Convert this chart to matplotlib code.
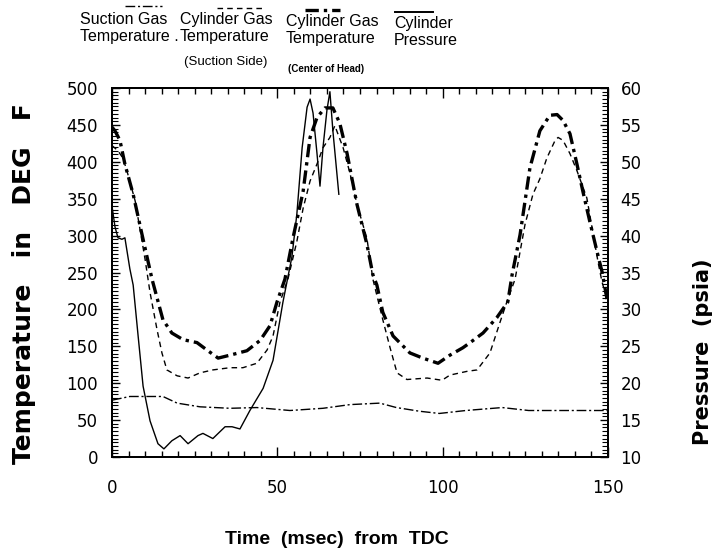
import numpy as np
import matplotlib.pyplot as plt
from matplotlib.lines import Line2D
from matplotlib.ticker import MultipleLocator

# time (msec) / value pairs
suction_t = [0, 5.4, 15.4, 19.7, 26.6, 35.7, 43.8, 53.8, 63.8, 72, 81, 86, 93, 99, 107, 118, 126, 137, 150]
suction_temp = [77, 82, 82, 73, 68, 66, 67, 63, 66, 71, 73, 67, 62, 59, 63, 67, 63, 63, 63]

side_t = [0, 1.8, 3.3, 4.5, 7.0, 10.0, 11.5, 13.6, 15.1, 16.6, 19.7, 23.0, 26.6, 30.5, 35.7, 39.6,
          43.8, 46.9, 48.7, 50.8, 53.2, 55.9, 57.8, 59.9, 62.0, 63.8, 65.9, 67.4, 68.3, 69.9, 72.0,
          74.1, 77.1, 78.9, 80.1, 81.9, 84.1, 86.2, 89.2, 95.3, 99.8, 102.2, 107.3, 110.4, 114.3,
          117.3, 119.4, 121.9, 124.9, 127.3, 129.4, 131.5, 134.0, 134.9, 136.4, 138.5, 140.6,
          143.6, 145.4, 147.0, 148.2, 149.7]
side_temp = [422, 415, 405, 388, 347, 268, 223, 173, 141, 118, 110, 107, 114, 118, 121, 121,
             127, 145, 164, 210, 241, 292, 337, 374, 397, 419, 433, 449, 438, 419, 384,
             342, 296, 241, 219, 186, 148, 114, 105, 107, 104, 111, 116, 118, 141,
             182, 210, 241, 315, 356, 377, 405, 429, 433, 429, 411, 388,
             351, 305, 264, 237, 214]

head_t = [0, 0.9, 2.4, 3.9, 6.4, 9.1, 12.1, 15.4, 18.1, 21.5, 25.7, 28.7, 32.1, 35.7, 40.8,
          44.8, 47.8, 49.9, 52.3, 54.7, 57.8, 59.9, 62.0, 64.4, 66.8, 68.9, 71.1, 74.1, 77.1,
          78.9, 80.1, 81.9, 85.0, 90.1, 94.0, 98.6, 102.2, 106.1, 108.3, 112.2, 116.4, 119.7,
          121.0, 123.4, 126.4, 129.4, 132.4, 134.6, 136.4, 138.5, 140.6, 142.4, 144.5, 146.7,
          148.2, 149.7]
head_temp = [447, 442, 429, 397, 356, 301, 241, 186, 168, 159, 155, 145, 134, 138, 144,
             158, 178, 210, 241, 296, 360, 433, 460, 473, 473, 452, 411, 342, 288,
             247, 233, 196, 164, 141, 134, 127, 138, 148, 155, 168, 189, 210,
             247, 301, 392, 442, 463, 464, 456, 438, 397, 360, 319, 278,
             251, 214]

press_t = [0, 0.9, 1.8, 3.0, 3.9, 5.4, 6.4, 7.9, 9.4, 11.5, 13.9, 15.7, 18.1, 20.6, 23.0, 26.0,
           27.5, 30.5, 34.2, 36.3, 38.7, 41.7, 45.7, 48.7, 51.7, 54.4, 55.9, 57.5, 59.0, 59.9,
           60.8, 62.0, 62.9, 63.8, 65.0, 65.9, 66.8, 68.6]
press_psia = [44.0, 41.2, 39.7, 39.5, 39.7, 35.5, 33.3, 26.4, 19.6, 14.9, 11.8, 11.1, 12.2, 12.9,
              11.8, 12.9, 13.2, 12.5, 14.1, 14.1, 13.8, 16.3, 19.3, 23.1, 31.0, 37.1, 42.9, 51.9,
              57.4, 58.5, 56.6, 51.1, 46.7, 51.9, 57.0, 59.5, 54.2, 45.6]

x_ticks = [0, 50, 100, 150]

fig = plt.figure(figsize=(7.21, 5.58), dpi=100)
ax = fig.add_axes([112 / 721, 1 - 457 / 558, 496 / 721, 369 / 558])
ax2 = ax.twinx()

ax.plot(suction_t, suction_temp, color="black", lw=1.0, ls=(0, (7, 2, 1.5, 2)))
ax.plot(side_t, side_temp, color="black", lw=1.0, ls=(0, (4, 3)))
ax.plot(head_t, head_temp, color="black", lw=2.4, ls=(0, (4, 1.5, 1, 1.5)))
ax2.plot(press_t, press_psia, color="black", lw=1.0)

ax.set_xlim(0, 150)
ax.set_ylim(0, 500)
ax2.set_ylim(10, 60)
ax.set_xticks(x_ticks)
ax.xaxis.set_minor_locator(MultipleLocator(5))
ax.yaxis.set_major_locator(MultipleLocator(50))
ax.yaxis.set_minor_locator(MultipleLocator(5))
ax2.yaxis.set_major_locator(MultipleLocator(5))
ax2.yaxis.set_minor_locator(MultipleLocator(0.5))

ax.tick_params(axis="x", which="both", direction="in", top=True, pad=16, labelsize=12)
ax.tick_params(axis="x", which="major", length=7, width=1)
ax.tick_params(axis="x", which="minor", length=4, width=1)
ax.tick_params(axis="y", which="major", direction="in", length=6, width=1, pad=10, labelsize=12)
ax.tick_params(axis="y", which="minor", direction="in", length=4, width=0.8)
ax2.tick_params(axis="y", which="major", direction="in", length=6, width=1, pad=9, labelsize=12)
ax2.tick_params(axis="y", which="minor", direction="in", length=4, width=0.8)
for a in (ax, ax2):
    for s in a.spines.values():
        s.set_linewidth(1.4)

fig.text(24 / 721, 1 - 284 / 558, "Temperature   in   DEG   F", rotation=90,
         ha="center", va="center", family="DejaVu Sans", weight="bold", size=18)
fig.text(703 / 721, 1 - 352 / 558, "Pressure  (psia)", rotation=90,
         ha="center", va="center", family="DejaVu Sans", weight="bold", size=15)
fig.text(337 / 721, 1 - 540 / 558, "Time  (msec)  from  TDC",
         ha="center", va="center", family="Liberation Sans", weight="bold", size=14)

# legend across the top
leg_font = dict(family="Liberation Sans", size=11.5, va="top", ha="left", linespacing=1.2)
fig.text(80 / 721, 1 - 12 / 558, "Suction Gas\nTemperature .", **leg_font)
fig.text(180 / 721, 1 - 12 / 558, "Cylinder Gas\nTemperature", **leg_font)
fig.text(184 / 721, 1 - 56 / 558, "(Suction Side)", family="Liberation Sans", size=9.5,
         va="top", ha="left")
fig.text(286 / 721, 1 - 14 / 558, "Cylinder Gas\nTemperature", **leg_font)
fig.text(288 / 721, 1 - 64 / 558, "(Center of Head)", size=7, family="Liberation Sans",
         weight="bold", va="top", ha="left")
fig.text(394 / 721, 1 - 16 / 558, "Cylinder\nPressure", **leg_font)

samples = [
    (125, 162, 6, 1.0, (0, (7, 2, 1.5, 2))),
    (217, 262, 8, 1.0, (0, (4, 3))),
    (305, 340, 10, 2.4, (0, (4, 1.5, 1, 1.5))),
    (395, 433, 12, 1.4, "-"),
]
for x0, x1, y, lw, ls in samples:
    fig.add_artist(Line2D([x0 / 721, x1 / 721], [1 - y / 558, 1 - y / 558],
                          color="black", lw=lw, ls=ls))

fig.savefig("out.png", dpi=100)
